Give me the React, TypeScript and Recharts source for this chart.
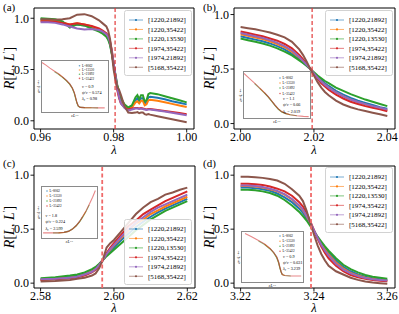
import React from 'react';
import { LineChart, Line, XAxis, YAxis, ReferenceLine, ReferenceArea, Legend } from 'recharts';

const FONT = '"Liberation Serif", "DejaVu Serif", serif';

const seriesNames = ['[1220,21892]', '[1220,35422]', '[1220,13530]', '[1974,35422]', '[1974,21892]', '[5168,35422]'];
const seriesColors = ['#1f77b4', '#ff7f0e', '#2ca02c', '#d62728', '#9467bd', '#8c564b'];

// ---------- panel (a) ----------
const lambdaA = [0.960, 0.962, 0.964, 0.966, 0.968, 0.970, 0.972, 0.974, 0.976, 0.977, 0.978, 0.9785, 0.979, 0.9795, 0.980, 0.9805, 0.981, 0.9815, 0.982, 0.983, 0.984, 0.985, 0.986, 0.9865, 0.987, 0.9875, 0.988, 0.9885, 0.989, 0.9895, 0.990, 0.992, 0.994, 0.996, 0.998, 1.000];
const a_1220_21892 = [0.99, 0.985, 0.975, 0.96, 0.93, 0.94, 0.93, 0.91, 0.88, 0.86, 0.83, 0.80, 0.75, 0.66, 0.55, 0.44, 0.34, 0.26, 0.20, 0.15, 0.12, 0.14, 0.20, 0.22, 0.19, 0.22, 0.22, 0.17, 0.18, 0.23, 0.235, 0.225, 0.21, 0.19, 0.175, 0.16];
const a_1220_35422 = [0.98, 0.98, 0.975, 0.96, 0.94, 0.95, 0.94, 0.92, 0.89, 0.87, 0.84, 0.81, 0.76, 0.67, 0.55, 0.43, 0.32, 0.24, 0.18, 0.14, 0.115, 0.13, 0.18, 0.19, 0.17, 0.195, 0.195, 0.15, 0.16, 0.20, 0.205, 0.195, 0.18, 0.165, 0.15, 0.135];
const a_1220_13530 = [1.00, 0.995, 0.99, 0.97, 0.91, 0.94, 0.93, 0.90, 0.87, 0.85, 0.82, 0.79, 0.74, 0.65, 0.55, 0.45, 0.35, 0.28, 0.22, 0.16, 0.13, 0.15, 0.23, 0.25, 0.21, 0.25, 0.25, 0.19, 0.20, 0.26, 0.27, 0.26, 0.24, 0.22, 0.20, 0.18];
const a_1974_35422 = [0.97, 0.97, 0.965, 0.955, 0.94, 0.95, 0.94, 0.925, 0.90, 0.88, 0.855, 0.83, 0.78, 0.69, 0.56, 0.43, 0.30, 0.22, 0.17, 0.13, 0.11, 0.12, 0.125, 0.125, 0.12, 0.125, 0.12, 0.115, 0.11, 0.115, 0.115, 0.105, 0.095, 0.085, 0.075, 0.065];
const a_1974_21892 = [0.96, 0.96, 0.955, 0.94, 0.92, 0.90, 0.89, 0.895, 0.885, 0.87, 0.845, 0.82, 0.77, 0.68, 0.56, 0.44, 0.32, 0.23, 0.17, 0.125, 0.10, 0.11, 0.12, 0.12, 0.115, 0.12, 0.115, 0.11, 0.105, 0.11, 0.11, 0.10, 0.09, 0.078, 0.066, 0.055];
const a_5168_35422 = [0.99, 0.99, 0.985, 0.99, 1.00, 1.035, 1.04, 1.02, 0.98, 0.95, 0.92, 0.88, 0.80, 0.66, 0.50, 0.40, 0.33, 0.30, 0.25, 0.14, 0.08, 0.075, 0.08, 0.085, 0.075, 0.08, 0.08, 0.065, 0.06, 0.065, 0.06, 0.045, 0.03, 0.015, 0.0, -0.015];

// ---------- panel (b) ----------
const lambdaB = [2.000, 2.002, 2.004, 2.006, 2.008, 2.010, 2.012, 2.014, 2.016, 2.017, 2.018, 2.019, 2.020, 2.021, 2.022, 2.023, 2.024, 2.026, 2.028, 2.030, 2.032, 2.034, 2.036, 2.038, 2.040];
const b_1220_21892 = [0.80, 0.785, 0.77, 0.755, 0.735, 0.71, 0.68, 0.64, 0.59, 0.56, 0.53, 0.50, 0.465, 0.43, 0.40, 0.37, 0.345, 0.30, 0.265, 0.235, 0.21, 0.19, 0.17, 0.15, 0.135];
const b_1220_35422 = [0.82, 0.805, 0.79, 0.775, 0.755, 0.73, 0.70, 0.66, 0.605, 0.57, 0.535, 0.50, 0.46, 0.42, 0.385, 0.355, 0.33, 0.285, 0.25, 0.22, 0.195, 0.175, 0.155, 0.14, 0.122];
const b_1220_13530 = [0.78, 0.765, 0.75, 0.735, 0.715, 0.69, 0.66, 0.625, 0.58, 0.555, 0.53, 0.50, 0.47, 0.44, 0.415, 0.39, 0.37, 0.33, 0.30, 0.27, 0.245, 0.22, 0.20, 0.18, 0.16];
const b_1974_35422 = [0.845, 0.83, 0.815, 0.80, 0.78, 0.76, 0.73, 0.69, 0.63, 0.59, 0.55, 0.505, 0.455, 0.41, 0.37, 0.34, 0.31, 0.265, 0.23, 0.20, 0.18, 0.16, 0.145, 0.13, 0.113];
const b_1974_21892 = [0.83, 0.815, 0.80, 0.785, 0.765, 0.74, 0.71, 0.67, 0.61, 0.575, 0.54, 0.50, 0.46, 0.42, 0.385, 0.355, 0.33, 0.285, 0.25, 0.22, 0.198, 0.178, 0.16, 0.145, 0.128];
const b_5168_35422 = [0.885, 0.875, 0.865, 0.85, 0.835, 0.815, 0.79, 0.75, 0.68, 0.63, 0.57, 0.50, 0.44, 0.38, 0.33, 0.29, 0.26, 0.21, 0.175, 0.15, 0.13, 0.115, 0.10, 0.085, 0.07];

// ---------- panel (c) ----------
const lambdaC = [2.580, 2.584, 2.588, 2.590, 2.592, 2.594, 2.595, 2.596, 2.597, 2.598, 2.599, 2.600, 2.602, 2.604, 2.606, 2.608, 2.610, 2.612, 2.614, 2.616, 2.618, 2.620];
const c_1220_21892 = [0.035, 0.045, 0.058, 0.07, 0.09, 0.12, 0.14, 0.175, 0.215, 0.26, 0.30, 0.33, 0.40, 0.46, 0.52, 0.57, 0.615, 0.655, 0.69, 0.72, 0.75, 0.78];
const c_1220_35422 = [0.03, 0.04, 0.05, 0.06, 0.08, 0.11, 0.135, 0.17, 0.215, 0.265, 0.31, 0.35, 0.42, 0.49, 0.55, 0.59, 0.64, 0.675, 0.71, 0.74, 0.77, 0.80];
const c_1220_13530 = [0.045, 0.055, 0.07, 0.08, 0.10, 0.13, 0.15, 0.18, 0.215, 0.25, 0.28, 0.31, 0.37, 0.43, 0.49, 0.54, 0.59, 0.63, 0.67, 0.70, 0.73, 0.76];
const c_1974_35422 = [0.03, 0.035, 0.045, 0.055, 0.07, 0.10, 0.125, 0.165, 0.215, 0.28, 0.33, 0.37, 0.45, 0.53, 0.58, 0.64, 0.68, 0.72, 0.76, 0.79, 0.82, 0.85];
const c_1974_21892 = [0.035, 0.04, 0.05, 0.06, 0.08, 0.105, 0.13, 0.17, 0.215, 0.27, 0.315, 0.355, 0.43, 0.50, 0.56, 0.61, 0.66, 0.70, 0.73, 0.76, 0.79, 0.82];
const c_5168_35422 = [0.015, 0.02, 0.03, 0.04, 0.05, 0.07, 0.09, 0.14, 0.22, 0.33, 0.37, 0.40, 0.48, 0.56, 0.64, 0.70, 0.75, 0.78, 0.82, 0.84, 0.865, 0.885];

// ---------- panel (d) ----------
const lambdaD = [3.220, 3.222, 3.224, 3.226, 3.228, 3.230, 3.232, 3.234, 3.236, 3.237, 3.238, 3.239, 3.240, 3.241, 3.242, 3.243, 3.244, 3.246, 3.248, 3.250, 3.252, 3.254, 3.256, 3.258, 3.260];
const d_1220_21892 = [0.885, 0.885, 0.88, 0.87, 0.855, 0.83, 0.795, 0.75, 0.69, 0.65, 0.60, 0.545, 0.485, 0.425, 0.37, 0.325, 0.28, 0.21, 0.15, 0.11, 0.08, 0.06, 0.045, 0.037, 0.03];
const d_1220_35422 = [0.90, 0.90, 0.895, 0.885, 0.87, 0.85, 0.82, 0.775, 0.715, 0.675, 0.62, 0.555, 0.485, 0.42, 0.36, 0.31, 0.265, 0.19, 0.135, 0.095, 0.07, 0.05, 0.038, 0.028, 0.022];
const d_1220_13530 = [0.865, 0.865, 0.86, 0.85, 0.835, 0.81, 0.77, 0.72, 0.66, 0.62, 0.58, 0.53, 0.48, 0.43, 0.385, 0.34, 0.30, 0.23, 0.17, 0.13, 0.10, 0.075, 0.06, 0.05, 0.04];
const d_1974_35422 = [0.92, 0.92, 0.915, 0.91, 0.895, 0.875, 0.85, 0.81, 0.75, 0.71, 0.65, 0.575, 0.49, 0.41, 0.34, 0.28, 0.23, 0.16, 0.11, 0.075, 0.055, 0.04, 0.03, 0.022, 0.018];
const d_1974_21892 = [0.905, 0.905, 0.90, 0.89, 0.875, 0.855, 0.825, 0.78, 0.72, 0.68, 0.625, 0.56, 0.49, 0.42, 0.355, 0.30, 0.255, 0.18, 0.125, 0.09, 0.065, 0.048, 0.036, 0.03, 0.025];
const d_5168_35422 = [0.985, 0.985, 0.98, 0.975, 0.965, 0.95, 0.92, 0.87, 0.81, 0.76, 0.67, 0.56, 0.45, 0.35, 0.27, 0.21, 0.16, 0.11, 0.08, 0.05, 0.03, 0.015, 0.005, 0.0, -0.005];

// ---------- insets (scaled collapse, normalised axes) ----------
const insetNames = ['L=8062', 'L=13530', 'L=21892', 'L=35422'];
const insetColors = ['#1f77b4', '#ff7f0e', '#2ca02c', '#d62728'];

const insetXA = [0.00, 0.06, 0.12, 0.19, 0.25, 0.31, 0.37, 0.42, 0.46, 0.49, 0.51, 0.53, 0.55, 0.58, 0.65, 0.75, 0.85, 0.95];
const insetA_8062 = [null, null, null, null, null, 0.69, 0.62, 0.55, 0.47, 0.375, 0.275, 0.18, 0.12, 0.09, 0.085, null, null, null];
const insetA_13530 = [null, null, null, null, 0.745, 0.685, 0.615, 0.545, 0.465, 0.37, 0.27, 0.175, 0.115, 0.09, 0.085, 0.082, null, null];
const insetA_21892 = [null, null, null, 0.79, 0.74, 0.68, 0.61, 0.54, 0.46, 0.36, 0.26, 0.17, 0.11, 0.09, 0.085, 0.082, 0.08, null];
const insetA_35422 = [0.97, 0.92, 0.86, 0.80, 0.75, 0.69, 0.62, 0.55, 0.47, 0.38, 0.28, 0.18, 0.12, 0.09, 0.085, 0.082, 0.08, 0.08];

const insetXB = [0.00, 0.08, 0.16, 0.24, 0.31, 0.37, 0.42, 0.47, 0.52, 0.57, 0.63, 0.70, 0.80, 0.90, 0.98];
const insetB_8062 = [null, null, null, null, 0.55, 0.46, 0.37, 0.28, 0.20, 0.14, 0.10, null, null, null, null];
const insetB_13530 = [null, null, null, 0.645, 0.545, 0.455, 0.365, 0.275, 0.195, 0.135, 0.097, 0.07, null, null, null];
const insetB_21892 = [null, null, 0.75, 0.64, 0.54, 0.45, 0.36, 0.27, 0.19, 0.13, 0.095, 0.07, 0.05, null, null];
const insetB_35422 = [0.97, 0.86, 0.76, 0.65, 0.55, 0.46, 0.37, 0.28, 0.20, 0.14, 0.10, 0.07, 0.05, 0.035, 0.03];

const insetXC = [0.02, 0.10, 0.20, 0.30, 0.40, 0.48, 0.55, 0.62, 0.68, 0.74, 0.80, 0.86, 0.92, 0.97];
const insetC_8062 = [null, null, null, null, 0.11, 0.135, 0.175, 0.245, 0.32, 0.42, null, null, null, null];
const insetC_13530 = [null, null, null, 0.10, 0.11, 0.13, 0.175, 0.24, 0.315, 0.415, 0.525, null, null, null];
const insetC_21892 = [null, null, 0.10, 0.10, 0.11, 0.13, 0.17, 0.235, 0.31, 0.41, 0.52, 0.65, null, null];
const insetC_35422 = [0.10, 0.10, 0.10, 0.10, 0.11, 0.13, 0.17, 0.24, 0.32, 0.42, 0.53, 0.66, 0.80, 0.93];

const insetXD = [0.05, 0.15, 0.27, 0.37, 0.46, 0.52, 0.57, 0.60, 0.62, 0.64, 0.66, 0.70, 0.80, 0.90, 0.97];
const insetD_8062 = [null, null, null, null, 0.67, 0.59, 0.50, 0.40, 0.30, 0.21, 0.15, null, null, null, null];
const insetD_13530 = [null, null, null, 0.755, 0.665, 0.585, 0.49, 0.39, 0.29, 0.205, 0.15, 0.13, null, null, null];
const insetD_21892 = [null, null, 0.82, 0.75, 0.66, 0.58, 0.48, 0.38, 0.28, 0.20, 0.15, 0.13, 0.12, null, null];
const insetD_35422 = [0.97, 0.91, 0.83, 0.76, 0.67, 0.59, 0.50, 0.40, 0.30, 0.21, 0.15, 0.13, 0.12, 0.12, 0.12];

const insetParams = [
  ['0.9', '0.574', '0.98'],
  ['1.1', '0.66', '2.019'],
  ['1.8', '0.224', '2.599'],
  ['0.9', '0.631', '3.239'],
];

function table(xs: number[], cols: (number | null)[][]) {
  return xs.map((x, i) => {
    const row: Record<string, number | null> = { x };
    cols.forEach((c, j) => {
      row['s' + j] = c[i];
    });
    return row;
  });
}

const dataA = table(lambdaA, [a_1220_21892, a_1220_35422, a_1220_13530, a_1974_35422, a_1974_21892, a_5168_35422]);
const dataB = table(lambdaB, [b_1220_21892, b_1220_35422, b_1220_13530, b_1974_35422, b_1974_21892, b_5168_35422]);
const dataC = table(lambdaC, [c_1220_21892, c_1220_35422, c_1220_13530, c_1974_35422, c_1974_21892, c_5168_35422]);
const dataD = table(lambdaD, [d_1220_21892, d_1220_35422, d_1220_13530, d_1974_35422, d_1974_21892, d_5168_35422]);

const insetDataA = table(insetXA, [insetA_8062, insetA_13530, insetA_21892, insetA_35422]);
const insetDataB = table(insetXB, [insetB_8062, insetB_13530, insetB_21892, insetB_35422]);
const insetDataC = table(insetXC, [insetC_8062, insetC_13530, insetC_21892, insetC_35422]);
const insetDataD = table(insetXD, [insetD_8062, insetD_13530, insetD_21892, insetD_35422]);

function MainLegendBox() {
  return (
    <div
      style={{
        width: 68,
        height: 66,
        boxSizing: 'border-box',
        border: '1px solid #d2d2d2',
        borderRadius: 2.5,
        background: 'rgba(255,255,255,0.85)',
      }}
    >
      <svg width={66} height={64} style={{ display: 'block' }}>
        {seriesNames.map((n, i) => {
          const cy = 9 + i * 9.45;
          return (
            <g key={n}>
              <line x1={4} x2={18} y1={cy} y2={cy} stroke={seriesColors[i]} strokeWidth={1} strokeOpacity={0.6} />
              <circle cx={11} cy={cy} r={1.1} fill={seriesColors[i]} />
              <text x={23} y={cy + 2.4} fontSize={7} fill="#000" fontFamily={FONT}>
                {n}
              </text>
            </g>
          );
        })}
      </svg>
    </div>
  );
}

type PanelProps = {
  left: number;
  top: number;
  width: number;
  height: number;
  marginTop: number;
  marginRight: number;
  xAxisHeight: number;
  data: Record<string, number | null>[];
  xDomain: [number, number];
  xTicks: number[];
  yDomain: [number, number];
  crit: number;
  critColor: string;
  critWidth: number;
  legendLeft: number;
  legendTop: number;
};

function Panel(p: PanelProps) {
  return (
    <div style={{ position: 'absolute', left: p.left, top: p.top, width: p.width, height: p.height }}>
      <LineChart
        width={p.width}
        height={p.height}
        data={p.data}
        margin={{ top: p.marginTop, right: p.marginRight, bottom: 0, left: 0 }}
      >
        <XAxis
          type="number"
          dataKey="x"
          domain={p.xDomain}
          ticks={p.xTicks}
          interval={0}
          allowDataOverflow
          tickFormatter={(v: number) => v.toFixed(2)}
          height={p.xAxisHeight}
          tickSize={3.5}
          tickMargin={0}
          axisLine={false}
          tickLine={{ stroke: '#000', strokeWidth: 0.9 }}
          tick={{ fontSize: 12, fill: '#000', fontFamily: FONT }}
        />
        <YAxis
          type="number"
          domain={p.yDomain}
          ticks={[0, 0.5, 1]}
          interval={0}
          allowDataOverflow
          tickFormatter={(v: number) => v.toFixed(1)}
          width={34}
          tickSize={3.5}
          tickMargin={1.5}
          axisLine={false}
          tickLine={{ stroke: '#000', strokeWidth: 0.9 }}
          tick={{ fontSize: 12, fill: '#000', fontFamily: FONT }}
        />
        {seriesNames.map((n, j) => (
          <Line
            key={n}
            type="linear"
            dataKey={'s' + j}
            name={n}
            stroke={seriesColors[j]}
            strokeWidth={2}
            dot={false}
            isAnimationActive={false}
          />
        ))}
        <ReferenceLine x={p.crit} stroke={p.critColor} strokeWidth={p.critWidth} strokeDasharray="4 2.5" />
        <ReferenceArea
          x1={p.xDomain[0]}
          x2={p.xDomain[1]}
          y1={p.yDomain[0]}
          y2={p.yDomain[1]}
          fill="none"
          stroke="#000"
          strokeWidth={1}
          ifOverflow="visible"
        />
        <Legend
          layout="vertical"
          align="center"
          verticalAlign="middle"
          wrapperStyle={{ left: p.legendLeft, top: p.legendTop, width: 68, height: 66 }}
          content={() => <MainLegendBox />}
        />
      </LineChart>
    </div>
  );
}

type InsetProps = { left: number; top: number; w: number; h: number; data: Record<string, number | null>[] };

function Inset({ left, top, w, h, data }: InsetProps) {
  return (
    <div
      style={{
        position: 'absolute',
        left,
        top,
        width: w,
        height: h,
        background: '#fff',
        outline: '0.8px solid #8a8a8a',
      }}
    >
      <LineChart width={w} height={h} data={data} margin={{ top: 0, right: 0, bottom: 0, left: 0 }}>
        <XAxis type="number" dataKey="x" domain={[0, 1]} hide allowDataOverflow />
        <YAxis type="number" domain={[0, 1]} hide allowDataOverflow />
        {insetNames.map((n, j) => (
          <Line
            key={n}
            type="linear"
            dataKey={'s' + j}
            name={n}
            stroke={insetColors[j]}
            strokeOpacity={0.55}
            strokeWidth={1.1}
            dot={false}
            connectNulls={false}
            isAnimationActive={false}
          />
        ))}
      </LineChart>
    </div>
  );
}

const insetBoxes = [
  { left: 42, top: 61, w: 66, h: 51, data: insetDataA, legX: 79.5, legY: [65.7, 70, 74.2, 78.4], parX: 82, parY: 87.5 },
  { left: 244, top: 72, w: 66, h: 46, data: insetDataB, legX: 280, legY: [78, 83, 88, 93.5], parX: 283, parY: 99.8 },
  { left: 42, top: 187, w: 55, h: 51, data: insetDataC, legX: 47, legY: [191, 196, 201, 206], parX: 45.5, parY: 216.8 },
  { left: 242, top: 232, w: 61, h: 50, data: insetDataD, legX: 280, legY: [236, 241.3, 246.3, 251.3], parX: 283, parY: 257.5 },
];

function YLabel({ x, y }: { x: number; y: number }) {
  return (
    <text transform={`translate(${x},${y}) rotate(-90)`} textAnchor="middle" fontSize={14} fontFamily={FONT} fill="#000">
      <tspan fontStyle="italic">R</tspan>
      <tspan>[</tspan>
      <tspan fontStyle="italic">L</tspan>
      <tspan>, </tspan>
      <tspan fontStyle="italic">L</tspan>
      <tspan dy={-5} fontSize={8}>′</tspan>
      <tspan dy={5}>]</tspan>
    </text>
  );
}

function Overlay() {
  return (
    <svg
      width={399}
      height={314}
      style={{ position: 'absolute', left: 0, top: 0, pointerEvents: 'none', zIndex: 10 }}
      fontFamily={FONT}
    >
      <text x={3} y={10.5} fontSize={11}>(a)</text>
      <text x={203} y={10.5} fontSize={11}>(b)</text>
      <text x={3} y={167} fontSize={11}>(c)</text>
      <text x={203} y={167} fontSize={11}>(d)</text>

      <YLabel x={14} y={68} />
      <YLabel x={214} y={68} />
      <YLabel x={14} y={227} />
      <YLabel x={214} y={227} />

      <text x={114} y={153.5} fontSize={12.5} fontStyle="italic" textAnchor="middle">λ</text>
      <text x={314} y={153.5} fontSize={12.5} fontStyle="italic" textAnchor="middle">λ</text>
      <text x={114} y={311.5} fontSize={12.5} fontStyle="italic" textAnchor="middle">λ</text>
      <text x={314} y={311.5} fontSize={12.5} fontStyle="italic" textAnchor="middle">λ</text>

      {insetBoxes.map((b, k) => (
        <g key={k}>
          {insetNames.map((n, j) => (
            <g key={n}>
              <circle cx={b.legX} cy={b.legY[j]} r={0.8} fill={insetColors[j]} fillOpacity={0.7} />
              <text x={b.legX + 2.5} y={b.legY[j] + 1.1} fontSize={3.3}>{n}</text>
            </g>
          ))}
          <text x={b.parX} y={b.parY} fontSize={4.2}>
            <tspan fontStyle="italic">ν</tspan> = {insetParams[k][0]}
          </text>
          <text x={b.parX} y={b.parY + 6.4} fontSize={4.2}>
            <tspan fontStyle="italic">ψ</tspan>/<tspan fontStyle="italic">ν</tspan> = {insetParams[k][1]}
          </text>
          <text x={b.parX} y={b.parY + 12.8} fontSize={4.2}>
            <tspan fontStyle="italic">λ</tspan>
            <tspan dy={1} fontSize={3}>c</tspan>
            <tspan dy={-1}> = {insetParams[k][2]}</tspan>
          </text>
          <text x={b.left + b.w / 2} y={b.top + b.h + 5} fontSize={4} textAnchor="middle">
            <tspan fontStyle="italic">εL</tspan>
            <tspan dy={-1.5} fontSize={2.8}>1/ν</tspan>
          </text>
          <text
            transform={`translate(${b.left - 2},${b.top + b.h / 2}) rotate(-90)`}
            fontSize={4}
            textAnchor="middle"
          >
            <tspan fontStyle="italic">σ</tspan>
            <tspan dy={-1.5} fontSize={2.8}>(L)</tspan>
            <tspan dy={1.5} fontStyle="italic">L</tspan>
            <tspan dy={-1.5} fontSize={2.8}>−ψ/ν</tspan>
          </text>
        </g>
      ))}
    </svg>
  );
}

export default function App() {
  return (
    <div
      style={{
        position: 'absolute',
        left: 0,
        top: 0,
        width: 399,
        height: 314,
        background: '#fff',
        fontFamily: FONT,
        overflow: 'hidden',
      }}
    >
      <Panel
        left={0}
        top={0}
        width={200}
        height={157}
        marginTop={8}
        marginRight={6}
        xAxisHeight={28}
        data={dataA}
        xDomain={[0.9582, 1.002]}
        xTicks={[0.96, 0.98, 1.0]}
        yDomain={[-0.08, 1.1]}
        crit={0.9804}
        critColor="#e23a3a"
        critWidth={1.2}
        legendLeft={124}
        legendTop={10}
      />
      <Panel
        left={200}
        top={0}
        width={199}
        height={157}
        marginTop={8}
        marginRight={4}
        xAxisHeight={28}
        data={dataB}
        xDomain={[1.9982, 2.0421]}
        xTicks={[2.0, 2.02, 2.04]}
        yDomain={[-0.05, 1.06]}
        crit={2.0195}
        critColor="#e23a3a"
        critWidth={1.2}
        legendLeft={125}
        legendTop={10}
      />
      <Panel
        left={0}
        top={157}
        width={200}
        height={157}
        marginTop={9}
        marginRight={5}
        xAxisHeight={26}
        data={dataC}
        xDomain={[2.5782, 2.6221]}
        xTicks={[2.58, 2.6, 2.62]}
        yDomain={[-0.045, 1.085]}
        crit={2.5968}
        critColor="#f06a6a"
        critWidth={1.8}
        legendLeft={124}
        legendTop={62}
      />
      <Panel
        left={200}
        top={157}
        width={199}
        height={157}
        marginTop={9}
        marginRight={4}
        xAxisHeight={26}
        data={dataD}
        xDomain={[3.2182, 3.2621]}
        xTicks={[3.22, 3.24, 3.26]}
        yDomain={[-0.045, 1.085]}
        crit={3.2392}
        critColor="#f06a6a"
        critWidth={1.8}
        legendLeft={125}
        legendTop={10}
      />
      {insetBoxes.map((b, k) => (
        <Inset key={k} left={b.left} top={b.top} w={b.w} h={b.h} data={b.data} />
      ))}
      <Overlay />
    </div>
  );
}
